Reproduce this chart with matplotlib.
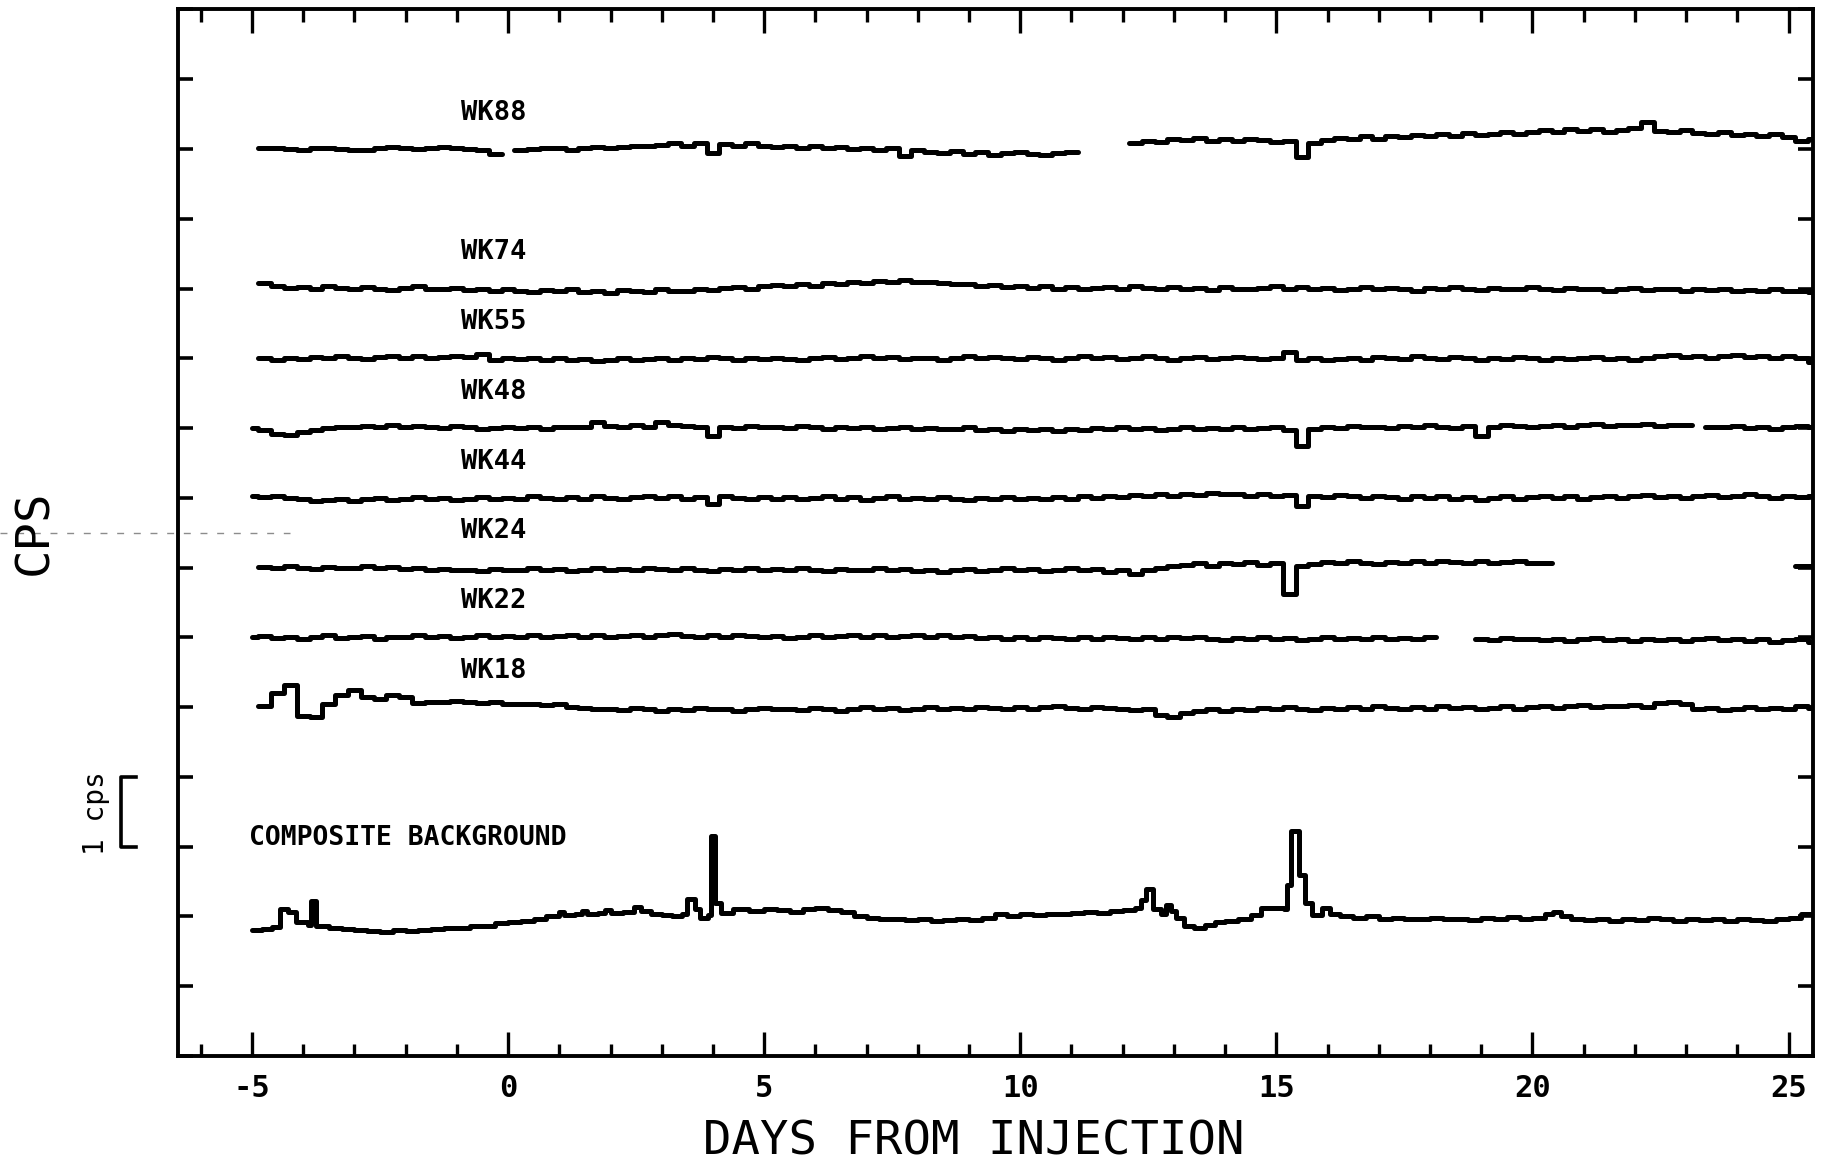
import numpy as np
import matplotlib
matplotlib.use("Agg")
import matplotlib.pyplot as plt
from matplotlib.lines import Line2D
from matplotlib.transforms import blended_transform_factory

# ---------------- data (values in 0.01 cps, relative to each trace's mean) -------------
day_start, day_step, n_days = -5.0, 0.25, 123

trace_names = ["WK88", "WK74", "WK55", "WK48", "WK44", "WK24", "WK22", "WK18"]
trace_offsets = [13, 11, 10, 9, 8, 7, 6, 5]

wk88 = [None,
        2, 1, 0, -1, 1, 2, 0, -2, -1, 1, 3, 2, 0, 1, 3, 2, 0, -2, -7,
        None,
        -1, 0, 2, 1, -1, 2, 3, 1,
        3, 5, 4, 6, 8, 5, 9, -6,
        7, 5, 8, 4, 3, 5, 2, 4,
        1, 3, 0, 2, -1, 1, -10, -2,
        -4, -6, -3, -7, -5, -8, -6, -4, -7, -9, -6, -5,
        None, None, None, None,
        8, 12, 10, 15, 13, 16, 12, 14,
        11, 15, 13, 10, 12, -12, 9, 13,
        16, 14, 18, 15, 19, 17, 20, 18,
        21, 19, 23, 20, 22, 24, 21, 25,
        27, 24, 28, 26, 29, 25, 27, 30,
        38, 26, 24, 27, 23, 22, 25, 20,
        21, 18, 22, 17, 12, 14]

wk74 = [None,
        8, 3, 1, 2, 0, 3, 1, -1, 2, 0, -2, 1, 3, 0, -1, 1, -2, 0, -3, -1,
        -3, -5, -2, -4, -1, -5, -3, -6, -2, -4, -5, -1, -3, -4, 0, -2, 1, 2, 0, 3,
        5, 3, 6, 4, 8, 7, 9, 8, 11, 9, 12, 10, 9, 8, 6, 7, 4, 5, 2, 3,
        1, 3, 0, 2, -1, 1, 2, 0, 3, 1, -1, 2, 0, 1, -2, 2, 0, -1, 1, 3,
        0, 2, -1, 1, -2, 0, 2, -1, 1, 0, -3, 1, -1, 2, 0, -2, 1, -1, 0, 2,
        0, -2, 1, -1, 0, -3, -1, 1, -2, 0, -1, -3, 0, -2, -1, -4, -2, -3, -1, -4, -3, -5]

wk55 = [None,
        0, -2, 1, -1, 2, 0, 3, 1, -1, 2, 4, 1, 3, 0, 2, 4, 2, 6, -3, 1,
        -1, 1, -2, 0, -3, -1, -4, -2, 0, -3, -1, 1, -2, 0, -1, 2, 0, -2, 1, -1,
        1, -1, -3, 0, 2, -1, 1, 3, 0, 2, -1, 1, 0, -2, 1, 3, 0, 2, 1, -1,
        2, 0, -2, 1, 3, 0, 2, -1, 1, 3, 0, -2, 1, 2, -1, 0, 2, 1, -1, 0,
        9, -2, 0, -3, -1, 1, -2, 2, 0, -1, 3, 1, -1, 2, 0, -2, 1, -1, 2, 0,
        -2, 1, -1, 0, 2, -1, 1, -3, 0, 3, 5, 2, 4, 1, 3, 5, 2, 4, 1, 3, 0, -6]

wk48 = [0,
        -3, -8, -10, -6, -3, 0, 2, 1, 3, 2, 4, 1, 3, 2, 0, 3, 1, -1, 0, 2,
        0, 1, -1, 2, 1, 2, 8, 3, 2, 4, 1, 9, 4, 3, 2, -12, 2, 0, 3, 1,
        2, 0, 3, 1, -1, 2, 0, 1, -2, 0, 1, -1, 0, -2, -1, 1, -3, -2, -4, -1,
        -3, -2, -4, -1, -3, 0, -2, 1, -1, 0, -3, -1, 1, -2, 0, -1, 2, -2, 0, 1,
        -3, -25, -2, 2, 0, 3, 1, 2, 0, 3, 1, 4, 2, 0, 3, -12, 1, 4, 3, 2,
        3, 5, 2, 4, 6, 3, 5, 4, 6, 3, 5, 4, None, 2, 1, 3, 0, 2, -1, 1, 3, 2]

wk44 = [2,
        1, 3, 0, -2, -4, -3, -1, -4, -2, 0, -3, -1, 1, -2, 0, -3, -1, 1, -2, 0,
        -1, 2, 0, -2, 1, -1, 3, 0, -2, 1, 3, 0, 2, -1, 1, -9, 2, 0, -2, 1,
        -1, 1, -2, 0, 2, -1, 1, -3, 0, 2, -1, 0, -2, 1, -1, -3, 0, -2, 1, -1,
        0, -2, 1, -1, 2, 0, 3, 1, 4, 2, 5, 3, 6, 4, 7, 5, 6, 3, 5, 2,
        4, -11, 3, 1, 4, 2, 0, 3, 1, -1, 2, 0, 3, -2, 1, -3, 0, 2, -1, 1,
        3, 0, 2, -2, 1, 3, 0, 2, 4, 1, 3, 0, 2, 4, 1, 3, 5, 2, 0, 3, 1, 2]

wk24 = [None,
        1, -1, 2, 0, -2, 1, -1, 0, 2, -1, 1, -2, 0, -3, -2, -4, -3, -5, -2, -4,
        -3, -1, -4, -2, -5, -3, -1, -4, -2, -3, 0, -2, -4, -1, -3, -5, -2, -4, -1, -3,
        -2, -4, -1, -3, -5, -2, -4, -3, -1, -4, -2, -5, -3, -6, -4, -2, -5, -3, -1, -4,
        -2, -5, -3, -1, -4, -2, -6, -3, -9, -4, -1, 2, 4, 6, 3, 7, 5, 8, 4, 6,
        -38, 2, 5, 8, 6, 9, 7, 5, 8, 6, 9, 7, 10, 8, 6, 9, 7, 8, 10, 7,
        6, None, None, None, None, None, None, None, None, None, None, None, None,
        None, None, None, None, None, None, None, 2, 3]

wk22 = [0,
        2, -1, 1, -2, 0, 3, -1, 1, 2, -2, 0, 1, 3, 0, 2, -1, 1, 3, 0, 2,
        1, 3, 0, 2, 4, 1, 3, 0, 2, 4, 1, 3, 5, 2, 0, 3, 1, 4, 2, 0,
        2, -1, 1, 3, 0, 2, 4, 1, 3, 0, 2, 4, 1, 3, 0, 2, -1, 1, -2, 0,
        -2, 1, -1, -3, 0, -2, 1, -1, -3, 0, -2, 1, -1, 0, -2, -4, -1, -3, 0, -2,
        -1, -4, -2, 0, -3, -1, -2, 0, -3, -1, -2, 0, None, None, None, -2, -4, -1, -3, -2,
        -4, -2, -5, -3, -1, -4, -2, -5, -3, -4, -2, -5, -3, -1, -4, -2, -5, -3, -6, -4, -3, -6]

wk18 = [None,
        2, 20, 32, -12, -14, 5, 18, 25, 14, 12, 18, 15, 6, 8, 7, 9, 8, 6, 7, 5,
        4, 5, 3, 4, 0, -1, -3, -2, -4, -1, -3, -5, -2, -4, -1, -3, -2, -5, -3, -1,
        -3, -2, -4, -1, -3, -5, -2, 0, -3, -1, -4, -2, 0, -3, -1, -2, 0, -1, -3, 0,
        -2, 0, 1, -1, -2, 0, -1, -2, -4, -3, -11, -14, -8, -6, -3, -5, -2, -4, -1, -3,
        0, -2, -4, -1, -3, 0, -2, 1, -1, -3, 0, -2, 1, -1, 0, -3, -1, 1, -2, 0,
        2, -1, 1, 3, 0, 2, 1, 3, 0, 6, 8, 5, -3, -1, -4, -2, 0, -3, -1, -2, 1, -1]

composite_name = "COMPOSITE BACKGROUND"
composite_offset = 2
composite_days = [-5.0, -4.8, -4.6, -4.45, -4.3, -4.15, -3.9, -3.85, -3.75, -3.5,
                  -3.25, -3.0, -2.75, -2.5, -2.25, -2.0, -1.75, -1.5, -1.25, -1.0,
                  -0.75, -0.5, -0.25, 0.0, 0.25, 0.5, 0.75, 1.0, 1.1, 1.3,
                  1.45, 1.55, 1.75, 1.9, 2.0, 2.25, 2.45, 2.6, 2.8, 3.0,
                  3.2, 3.4, 3.5, 3.65, 3.75, 3.9, 3.97, 4.05, 4.15, 4.4,
                  4.7, 5.0, 5.25, 5.5, 5.75, 6.0, 6.25, 6.5, 6.75, 7.0,
                  7.25, 7.5, 7.75, 8.0, 8.25, 8.5, 8.75, 9.0, 9.25, 9.5,
                  9.75, 10.0, 10.25, 10.5, 10.75, 11.0, 11.25, 11.5, 11.75, 12.0,
                  12.25, 12.35, 12.45, 12.6, 12.75, 12.85, 12.95, 13.05, 13.2, 13.4,
                  13.6, 13.8, 14.0, 14.25, 14.5, 14.7, 15.0, 15.15, 15.2, 15.28,
                  15.45, 15.55, 15.7, 15.9, 16.05, 16.25, 16.5, 16.75, 17.0, 17.25,
                  17.5, 17.75, 18.0, 18.25, 18.5, 18.75, 19.0, 19.25, 19.5, 19.75,
                  20.0, 20.25, 20.4, 20.55, 20.75, 21.0, 21.25, 21.5, 21.75, 22.0,
                  22.25, 22.5, 22.75, 23.0, 23.25, 23.5, 23.75, 24.0, 24.25, 24.5,
                  24.75, 25.0, 25.25, 25.5]
composite_cps = [-20, -18, -15, 10, 6, -8, -12, 22, -14, -16,
                 -18, -20, -21, -22, -20, -21, -19, -18, -17, -16,
                 -14, -13, -10, -8, -6, -3, 0, 6, 2, 3,
                 8, 4, 5, 9, 5, 6, 14, 8, 4, 2,
                 0, 4, 25, 10, -2, 2, 115, 20, 5, 10,
                 8, 11, 9, 7, 10, 12, 9, 6, 0, -2,
                 -4, -3, -5, -4, -6, -5, -3, -5, -2, 3,
                 1, 3, 2, 4, 3, 5, 6, 5, 8, 9,
                 12, 24, 40, 10, 4, 16, 8, -2, -14, -16,
                 -12, -8, -6, -3, 2, 12, 12, 10, 45, 122,
                 60, 20, 2, 12, 4, 0, -2, 0, -3, -2,
                 -4, -3, -2, -4, -3, -5, -2, -4, -1, -3,
                 -2, 3, 6, 0, -3, -5, -4, -6, -3, -5,
                 -2, -4, -6, -3, -5, -4, -6, -3, -5, -7,
                 -4, -2, 4, 4]

x_major_ticks = [-5, 0, 5, 10, 15, 20, 25]
x_tick_labels = ["-5", "0", "5", "10", "15", "20", "25"]
x_minor_ticks = list(range(-6, 26))
y_ticks = list(range(0, 16))
x_label = "DAYS FROM INJECTION"
y_label = "CPS"
scale_label = "1 cps"

traces = [wk88, wk74, wk55, wk48, wk44, wk24, wk22, wk18]
for t in traces:
    assert len(t) == n_days, len(t)
assert len(composite_days) == len(composite_cps)

days = day_start + day_step * np.arange(n_days)

# ---------------- figure ----------------
mono = "DejaVu Sans Mono"
plt.rcParams["font.family"] = [mono]

fig = plt.figure(figsize=(18.34, 11.67), dpi=100)
ax = fig.add_axes([0.0969, 0.0951, 0.8917, 0.8968])

lw = 3.6
for name, off, vals in zip(trace_names, trace_offsets, traces):
    y = np.array(vals, dtype=float) / 100.0 + off
    ax.plot(days, y, drawstyle="steps-mid", color="black", lw=lw,
            solid_joinstyle="round", solid_capstyle="round")
    ax.text(-0.92, off + 0.52, name, fontsize=19.5, fontweight="bold",
            ha="left", va="center", family=mono)

cy = np.array(composite_cps, dtype=float) / 100.0 + composite_offset
ax.plot(composite_days, cy, drawstyle="steps-post", color="black", lw=lw,
        solid_joinstyle="round", solid_capstyle="round")
ax.text(-5.05, composite_offset + 1.13, composite_name, fontsize=19,
        fontweight="bold", ha="left", va="center", family=mono)

ax.set_xlim(-6.45, 25.48)
ax.set_ylim(0, 15)
ax.set_xticks(x_major_ticks)
ax.set_xticklabels(x_tick_labels)
ax.set_xticks(x_minor_ticks, minor=True)
ax.set_yticks(y_ticks)
ax.set_yticklabels([])

ax.tick_params(axis="x", which="major", direction="in", length=17, width=2.4,
               top=True, bottom=True, labelsize=22, pad=13)
ax.tick_params(axis="x", which="minor", direction="in", length=9, width=2.4,
               top=True, bottom=True)
ax.tick_params(axis="y", which="major", direction="in", length=11, width=2.6,
               left=True, right=True)
for lbl in ax.get_xticklabels():
    lbl.set_fontweight("bold")
for sp in ax.spines.values():
    sp.set_linewidth(2.8)

# axis labels
fig.text(974 / 1834, 1 - 1142 / 1167, x_label, fontsize=34, ha="center",
         va="center", family=mono)
fig.text(35 / 1834, 1 - 532 / 1167, y_label, fontsize=34, ha="center",
         va="center", rotation=90, family=mono)

# 1 cps scale bar
tr = blended_transform_factory(ax.transAxes, ax.transData)
bx0, bx1 = -0.0345, -0.0255
ax.plot([bx1, bx0, bx0, bx1], [4, 4, 3, 3], transform=tr, color="black",
        lw=2.6, clip_on=False)
fig.text(96 / 1834, 1 - 813 / 1167, scale_label, fontsize=20, ha="center",
         va="center", rotation=90, family=mono)

# faint dashed scan line at left
fig.add_artist(Line2D([0, 290 / 1834], [1 - 533 / 1167] * 2, ls=(0, (5, 7)),
                      color="0.55", lw=1.0))

fig.savefig("out.png", dpi=100)
